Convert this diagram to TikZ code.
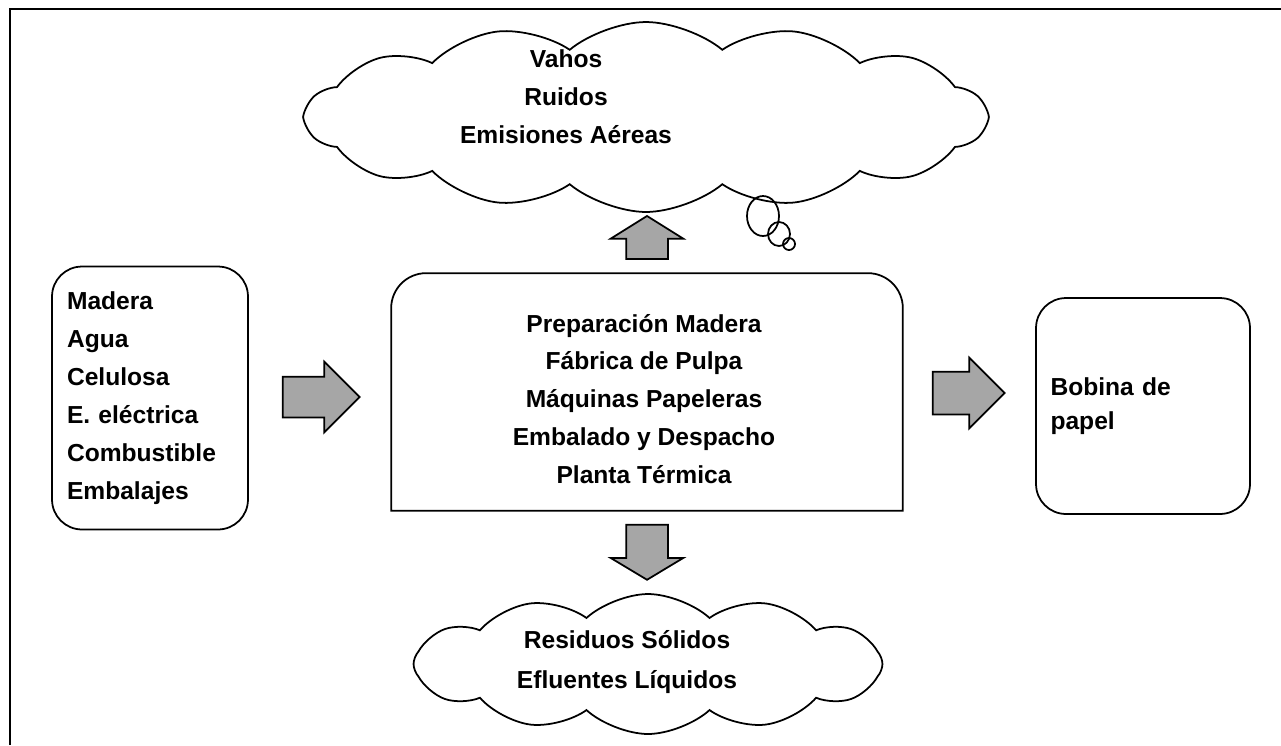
\documentclass[tikz,border=0pt]{standalone}
\usepackage{fontspec}
\setmainfont{Liberation Sans}
\usetikzlibrary{shapes.symbols,shapes.arrows,shapes.geometric}
\newcommand{\lbl}{\fontsize{14}{21.6}\selectfont\bfseries}
\definecolor{flechagris}{gray}{0.65}

\begin{document}
\begin{tikzpicture}[x=0.02cm,y=-0.02cm,line width=1pt,
  caja/.style={draw,rounded corners=0.6cm,font=\lbl,align=left,inner sep=0pt},
  nube/.style={draw,cloud,cloud puffs=13,cloud puff arc=85},
  flecha/.style={draw,fill=flechagris,single arrow},
  burbuja/.style={draw,ellipse,inner sep=0pt}]
\useasboundingbox (0,0) rectangle (1281,745);
% marco
\draw (10,745) -- (10,9) -- (1281,9);

\node[caja,minimum width=3.92cm,minimum height=5.26cm,text width=3.32cm] (insumos) at (150,398)
     {Madera\\Agua\\Celulosa\\E. eléctrica\\Combustible\\Embalajes};
\node[minimum width=10.2cm,minimum height=4.72cm,inner sep=0pt] (proceso) at (647,392) {};
\draw (proceso.south west) [rounded corners=0.7cm] -- (proceso.north west)
     -- (proceso.north east) [sharp corners] -- (proceso.south east) -- cycle;
\node[font=\lbl,align=center] (procesotxt) at (644,399)
     {Preparación Madera\\Fábrica de Pulpa\\Máquinas Papeleras\\Embalado y Despacho\\Planta Térmica};
\node[caja,font=\fontsize{14}{19.5}\selectfont\bfseries,minimum width=4.28cm,minimum height=4.32cm,text width=3.7cm] (bobina) at (1143,406)
     {Bobina de\\papel};

% nubes
\node[nube,cloud puffs=14,cloud puff arc=80,minimum width=13.6cm,minimum height=3.8cm] (aire) at (646,117) {};
\node[font=\lbl,align=center] (airetxt) at (566,97) {Vahos\\Ruidos\\Emisiones Aéreas};
\node[burbuja,minimum width=0.64cm,minimum height=0.8cm] (b1) at (763,216) {};
\node[burbuja,minimum width=0.44cm,minimum height=0.48cm] (b2) at (779,234) {};
\node[burbuja,minimum size=0.24cm] (b3) at (789,244) {};
\node[nube,cloud puffs=12,minimum width=9.38cm,minimum height=2.8cm] (residuos) at (648,664) {};
\node[font=\fontsize{14}{22.4}\selectfont\bfseries,align=center] (residuostxt) at (627,662)
     {Residuos Sólidos\\Efluentes Líquidos};

% flechas
\node[flecha,minimum height=1.54cm,inner xsep=0pt,inner ysep=0.39cm,single arrow head extend=0.3cm] (f1) at (311,397) {};
\node[flecha,minimum height=1.44cm,inner xsep=0pt,inner ysep=0.41cm,single arrow head extend=0.28cm] (f2) at (958,393) {};
\node[flecha,shape border rotate=90,minimum height=0.86cm,inner ysep=0pt,inner xsep=0.4cm,
      single arrow head extend=0.31cm,single arrow tip angle=116] (f3) at (647,244) {};
\node[flecha,shape border rotate=270,minimum height=1.1cm,inner ysep=0pt,inner xsep=0.4cm,
      single arrow head extend=0.31cm,single arrow tip angle=118] (f4) at (647,546) {};
\end{tikzpicture}
\end{document}
